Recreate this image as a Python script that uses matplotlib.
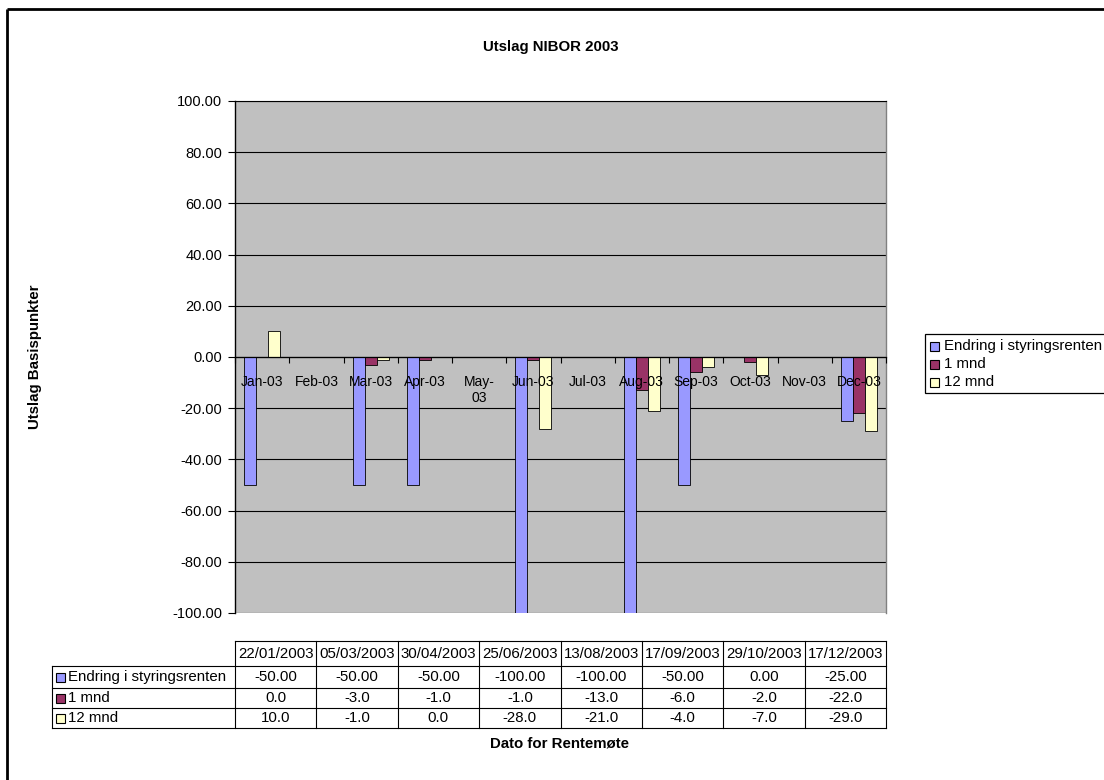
import matplotlib.pyplot as plt
import numpy as np
from matplotlib.patches import Rectangle

plt.rcParams['font.family'] = ['Liberation Sans', 'DejaVu Sans']

# data
months = ['Jan-03', 'Feb-03', 'Mar-03', 'Apr-03', 'May-\n03', 'Jun-03',
          'Jul-03', 'Aug-03', 'Sep-03', 'Oct-03', 'Nov-03', 'Dec-03']
meeting_dates = ['22/01/2003', '05/03/2003', '30/04/2003', '25/06/2003',
                 '13/08/2003', '17/09/2003', '29/10/2003', '17/12/2003']
meeting_month = [0, 2, 3, 5, 7, 8, 9, 11]
series_names = ['Endring i styringsrenten', '1 mnd', '12 mnd']
styringsrenten = [-50.00, -50.00, -50.00, -100.00, -100.00, -50.00, 0.00, -25.00]
mnd_1 = [0.0, -3.0, -1.0, -1.0, -13.0, -6.0, -2.0, -22.0]
mnd_12 = [10.0, -1.0, 0.0, -28.0, -21.0, -4.0, -7.0, -29.0]
series_fmt = ['%.2f', '%.1f', '%.1f']
colors = ['#9999FF', '#993366', '#FFFFCC']

FS = 10.8
W, H = 1104, 780
fig = plt.figure(figsize=(W / 100, H / 100), dpi=100)

# plot area in pixels
x0, x1, y0, y1 = 235, 886, 101, 613
ax = fig.add_axes([x0 / W, 1 - y1 / H, (x1 - x0) / W, (y1 - y0) / H])
ax.set_facecolor('#C0C0C0')

yt = np.arange(-100, 101, 20)
for v in yt:
    ax.axhline(v, color='black', linewidth=0.8, zorder=0.5)

bw = 12 / 54
xs = np.array(meeting_month, dtype=float)
for i, vals in enumerate([styringsrenten, mnd_1, mnd_12]):
    ax.bar(xs + (i - 1) * bw, vals, width=bw, color=colors[i],
           edgecolor='black', linewidth=0.6, zorder=2)

ax.set_xlim(-0.5, 11.5)
ax.set_ylim(-100, 100)
ax.set_yticks(yt)
ax.set_yticklabels(['%.2f' % v for v in yt], fontsize=10.5)
ax.tick_params(axis='y', direction='out', length=5, width=0.8, pad=4)

ax.set_xticks(np.arange(13) - 0.5)
ax.set_xticklabels([])
ax.set_xticks(np.arange(12), minor=True)
ax.set_xticklabels(months, minor=True, fontsize=10.5, linespacing=1.3)
ax.tick_params(axis='x', which='major', direction='out', length=4, width=0.8)
ax.tick_params(axis='x', which='minor', length=0, pad=13)
for lab in ax.get_xticklabels(minor=True):
    lab.set_verticalalignment('top')
ax.xaxis.set_zorder(4)

ax.spines['bottom'].set_position(('data', 0))
ax.spines['bottom'].set_linewidth(0.9)
ax.spines['bottom'].set_zorder(3)
ax.spines['left'].set_linewidth(1.0)
ax.spines['top'].set_linewidth(0.8)
ax.spines['right'].set_color('#808080')
ax.spines['right'].set_linewidth(1.0)

# overlay in pixel coordinates
ov = fig.add_axes([0, 0, 1, 1], facecolor='none')
ov.set_xlim(0, W)
ov.set_ylim(H, 0)
ov.set_axis_off()

# chart border (top and left only visible)
ov.plot([7, W + 5], [9, 9], color='black', lw=2.0, solid_capstyle='butt')
ov.plot([7, 7], [9, H + 5], color='black', lw=2.0, solid_capstyle='butt')

ov.text(551, 47, 'Utslag NIBOR 2003', ha='center', va='center',
        fontsize=FS, fontweight='bold')
ov.text(35, 357, 'Utslag Basispunkter', ha='center', va='center',
        rotation=90, fontsize=FS, fontweight='bold')
ov.text(560, 744, 'Dato for Rentemøte', ha='center', va='center',
        fontsize=FS, fontweight='bold')

# legend
ov.add_patch(Rectangle((925, 334), 200, 59, facecolor='white',
                       edgecolor='black', lw=0.9, clip_on=False))
for i, name in enumerate(series_names):
    yy = 346 + i * 18
    ov.add_patch(Rectangle((930, yy - 4.5), 9, 9, facecolor=colors[i],
                           edgecolor='black', lw=0.8))
    ov.text(944, yy, name, ha='left', va='center', fontsize=FS)

# data table
col_edges = np.linspace(x0, x1, len(meeting_dates) + 1)
row_edges = [641, 666, 688, 708, 728]
lab_left = 52
lw_t = 0.8
ov.plot([x0, x1], [row_edges[0]] * 2, color='black', lw=lw_t)
for ry in row_edges[1:]:
    ov.plot([lab_left, x1], [ry, ry], color='black', lw=lw_t)
ov.plot([lab_left, lab_left], [row_edges[1], row_edges[-1]], color='black', lw=lw_t)
for cx in col_edges:
    ov.plot([cx, cx], [row_edges[0], row_edges[-1]], color='black', lw=lw_t)

centers = (col_edges[:-1] + col_edges[1:]) / 2
hy = (row_edges[0] + row_edges[1]) / 2
for cx, d in zip(centers, meeting_dates):
    ov.text(cx, hy, d, ha='center', va='center', fontsize=FS)

for i, (name, vals) in enumerate(zip(series_names,
                                     [styringsrenten, mnd_1, mnd_12])):
    ry = (row_edges[i + 1] + row_edges[i + 2]) / 2
    ov.add_patch(Rectangle((56, ry - 4.5), 9, 9, facecolor=colors[i],
                           edgecolor='black', lw=0.8))
    ov.text(68, ry, name, ha='left', va='center', fontsize=FS)
    for cx, v in zip(centers, vals):
        ov.text(cx, ry, series_fmt[i] % v, ha='center', va='center', fontsize=FS)

fig.savefig('out.png', dpi=100)
